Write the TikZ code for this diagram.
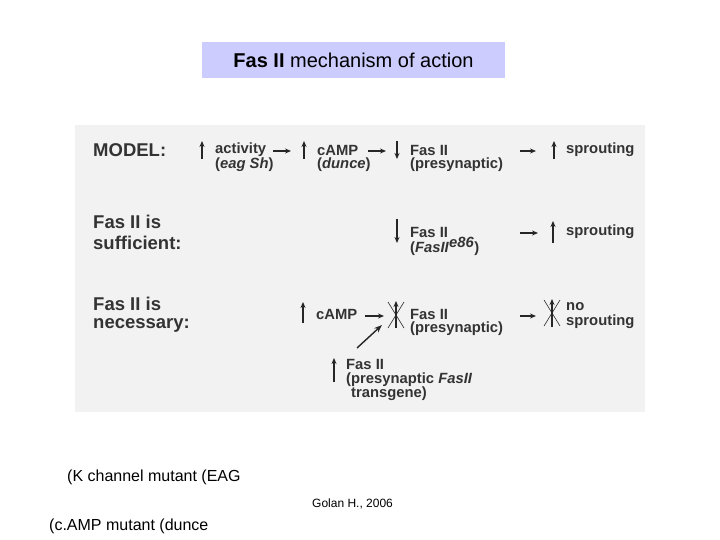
\documentclass[tikz,border=0pt]{standalone}
\usepackage{fontspec}
\setmainfont{Liberation Sans}
\usetikzlibrary{arrows.meta}
\begin{document}
\begin{tikzpicture}[x=1pt,y=-1pt,
  sm/.style={anchor=west,inner sep=0pt,font=\bfseries\fontsize{14.8}{15}\selectfont,text=black!80},
  lg/.style={anchor=west,inner sep=0pt,font=\bfseries\fontsize{18.5}{19}\selectfont,text=black!80},
  ar/.style={line width=1.4pt,black!85,-{Stealth[length=6pt,width=5pt]}},
  vr/.style={line width=1.8pt,black!85,-{Stealth[length=6pt,width=5pt]}},
  foot/.style={anchor=west,inner sep=0pt,font=\fontsize{16}{18}\selectfont}]
\useasboundingbox (0,0) rectangle (720,540);
\fill[white] (0,0) rectangle (720,540);
\fill[black!5] (75,125) rectangle (645,412);
\node[fill={rgb,255:red,204;green,204;blue,255},minimum width=303,minimum height=36,inner sep=0pt,font=\fontsize{20}{22}\selectfont] (title) at (353.5,60) {\textbf{Fas II} mechanism of action};
% row 1
\node[lg] (model) at (93,150) {MODEL:};
\draw[vr] (202,159) -- (202,141);
\node[sm] (act) at (215,150) {activity};
\node[sm] (actb) at (215,165) {(\textit{eag Sh})};
\draw[ar] (273,151) -- (291,151);
\draw[vr] (304,159) -- (304,141);
\node[sm] (camp1) at (317,150) {cAMP};
\node[sm] (dunce) at (317,165) {(\textit{dunce})};
\draw[ar] (368,151) -- (386,151);
\draw[vr] (397,141) -- (397,159);
\node[sm] (fas1) at (410,150) {Fas II};
\node[sm] (pre1) at (410,165) {(presynaptic)};
\draw[ar] (520,151) -- (536,151);
\draw[vr] (554,159) -- (554,141);
\node[sm] (spr1) at (566,150) {sprouting};
% row 2
\node[lg] (suf1) at (93,222) {Fas II is};
\node[lg] (suf2) at (93,243) {sufficient:};
\draw[vr] (397,219) -- (397,243);
\node[sm] (fas2) at (410,232) {Fas II};
\node[sm] (e86) at (410,246) {(\textit{FasII}$^{\textbf{\textit{e86}}}$)};
\draw[ar] (520,233) -- (538,233);
\draw[vr] (553,243) -- (553,221);
\node[sm] (spr2) at (566,232) {sprouting};
% row 3
\node[lg] (nec1) at (93,304) {Fas II is};
\node[lg] (nec2) at (93,325) {necessary:};
\draw[vr] (303,323) -- (303,302);
\node[sm] (camp3) at (316,314) {cAMP};
\draw[ar] (365,316) -- (384,316);
\draw[vr] (396,328) -- (396,301);
\draw[black!85,line width=0.6pt] (388,302) -- (404,328) (404,302) -- (388,328);
\node[sm] (fas3) at (410,314) {Fas II};
\node[sm] (pre3) at (410,329) {(presynaptic)};
\draw[ar] (520,316) -- (536,316);
\draw[vr] (552,327) -- (552,299);
\draw[black!85,line width=0.6pt] (544,300) -- (560,326) (560,300) -- (544,326);
\node[sm] (no) at (566,307) {no};
\node[sm] (spr3) at (566,322) {sprouting};
\draw[line width=1.4pt,black!85,-{Stealth[length=8pt,width=6pt]}] (357,348) -- (382,325);
\draw[vr] (334,382) -- (334,358);
\node[sm] (fas4) at (346,364) {Fas II};
\node[sm] (pre4) at (346,380) {(presynaptic \textit{FasII}};
\node[sm] (tg) at (351,394) {transgene)};
% footer
\node[foot] (k) at (67,477) {(K channel mutant (EAG};
\node[anchor=west,inner sep=0pt,font=\fontsize{12}{14}\selectfont] (golan) at (312,504) {Golan H., 2006};
\node[foot] (c) at (49,526) {(c.AMP mutant (dunce};
\end{tikzpicture}
\end{document}
